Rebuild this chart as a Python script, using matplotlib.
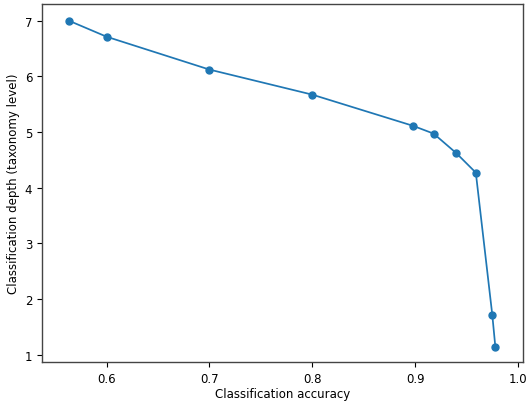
import matplotlib
matplotlib.use("Agg")
import matplotlib.pyplot as plt

accuracy = [0.563, 0.600, 0.700, 0.800, 0.898, 0.918, 0.940, 0.959, 0.975, 0.978]
depth = [7.0, 6.71, 6.12, 5.67, 5.11, 4.97, 4.62, 4.27, 1.72, 1.14]

plt.rcParams['font.size'] = 8.5
fig = plt.figure(figsize=(5.3, 4.06), dpi=100)
ax = fig.add_axes([0.079, 0.106, 0.908, 0.882])
ax.plot(accuracy, depth, marker='o', color='#1f77b4', linewidth=1.25, markersize=5)
ax.set_xlabel('Classification accuracy', labelpad=2)
ax.set_ylabel('Classification depth (taxonomy level)', labelpad=3)
ax.set_xticks([0.6, 0.7, 0.8, 0.9, 1.0])
ax.set_yticks([1, 2, 3, 4, 5, 6, 7])
ax.set_xlim(0.537, 1.005)
ax.set_ylim(0.87, 7.30)
for s in ax.spines.values():
    s.set_linewidth(1.0)
    s.set_color('#444444')
fig.savefig('out.png', dpi=100)
